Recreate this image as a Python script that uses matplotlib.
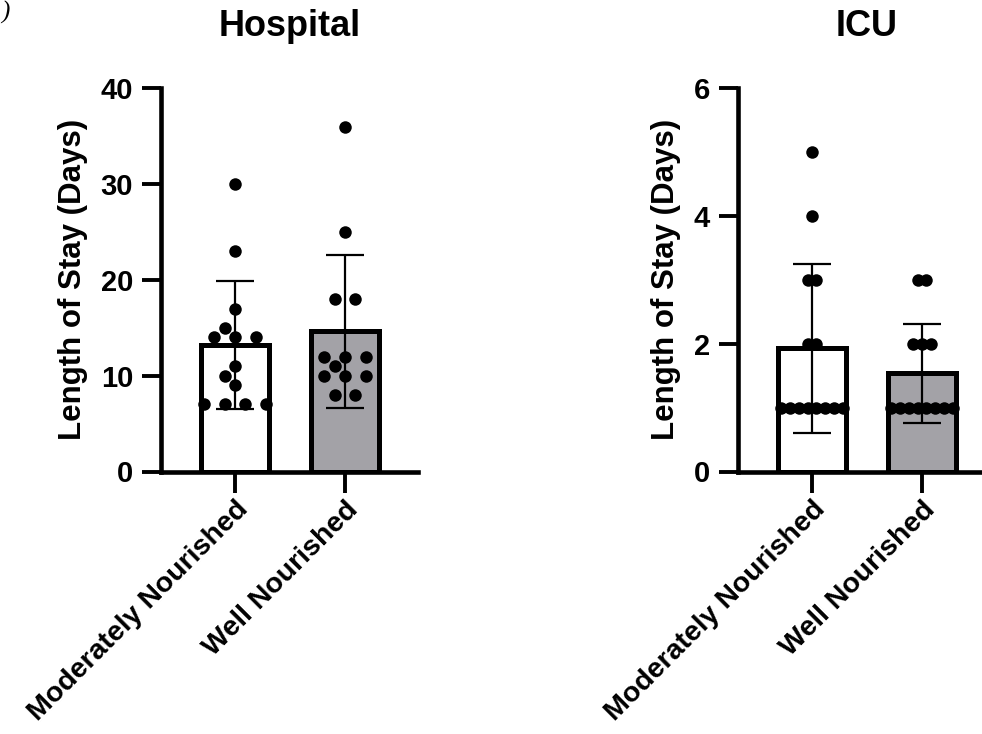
import numpy as np
import matplotlib
matplotlib.use('Agg')
import matplotlib.pyplot as plt
from collections import Counter

# ---------------- data ----------------
categories = ['Moderately Nourished', 'Well Nourished']
hospital_moderate = [30, 23, 17, 15, 14, 14, 14, 11, 10, 9, 7, 7, 7, 7]
hospital_well = [36, 25, 18, 18, 12, 12, 12, 11, 10, 10, 10, 8, 8]
icu_moderate = [5, 4, 3, 3, 2, 2, 1, 1, 1, 1, 1, 1, 1, 1]
icu_well = [3, 3, 2, 2, 2, 1, 1, 1, 1, 1, 1, 1, 1]
hospital_yticks = [0, 10, 20, 30, 40]
icu_yticks = [0, 2, 4, 6]
panel_titles = ['Hospital', 'ICU']
y_label = 'Length of Stay (Days)'
bar_colors = ['white', '#a3a2a7']

plt.rcParams['font.family'] = ['Liberation Sans', 'DejaVu Sans']
plt.rcParams['font.weight'] = 'bold'

W, H = 982, 734
fig = plt.figure(figsize=(W / 100, H / 100), dpi=100)


def px_rect(l, r, b, t):
    return [l / W, 1 - b / H, (r - l) / W, (b - t) / H]


XLIM = (-0.673, 1.664)
BAR_W = 0.61
DOT_D_PX = 12.5        # marker diameter in pixels
SPAN_PX = 62.0         # widest spread of a row of dots


def swarm_offsets(vals, spacing_px, ppy):
    """Return x offsets (pixels) for each value: equal values spread in a row,
    the row is shifted sideways to avoid overlapping neighbouring rows."""
    vals = np.asarray(vals, dtype=float)
    offs = np.zeros(len(vals))
    placed = []  # (x_px, value)
    shifts = [0]
    for k in range(1, 20):
        shifts += [-0.5 * k, 0.5 * k]
    for v in sorted(set(vals)):
        idx = np.where(vals == v)[0]
        n = len(idx)
        base = np.arange(n) - (n - 1) / 2
        for s in shifts:
            cand = (base + s) * spacing_px
            ok = True
            for c in cand:
                for (px, pv) in placed:
                    if np.hypot(c - px, (v - pv) * ppy) < DOT_D_PX * 0.95:
                        ok = False
                        break
                if not ok:
                    break
            if ok:
                break
        for i, c in zip(idx, cand):
            offs[i] = c
            placed.append((c, v))
    return offs


panels = [
    dict(title=panel_titles[0], groups=[hospital_moderate, hospital_well],
         yticks=hospital_yticks, rect=(161, 418, 471.5, 88.3)),
    dict(title=panel_titles[1], groups=[icu_moderate, icu_well],
         yticks=icu_yticks, rect=(738, 995, 471.5, 88.3)),
]

for p in panels:
    l, r, b, t = p['rect']
    ax = fig.add_axes(px_rect(l, r, b, t))
    ymax = p['yticks'][-1]
    ax.set_xlim(*XLIM)
    ax.set_ylim(0, ymax)
    ppx = (r - l) / (XLIM[1] - XLIM[0])
    ppy = (b - t) / ymax

    xs = np.arange(len(categories))
    means = [np.mean(g) for g in p['groups']]
    sds = [np.std(g, ddof=1) for g in p['groups']]

    ax.bar(xs, means, width=BAR_W, color=bar_colors, edgecolor='black',
           linewidth=3.6, zorder=2)
    ax.errorbar(xs, means, yerr=sds, fmt='none', ecolor='black',
                elinewidth=1.6, capsize=13.7, capthick=1.6, zorder=3)

    maxn = max(max(Counter(g).values()) for g in p['groups'])
    spacing = SPAN_PX / max(maxn - 1, 1)
    for xi, g in zip(xs, p['groups']):
        offs = swarm_offsets(g, spacing, ppy) / ppx
        ax.plot(xi + offs, g, 'o', color='black', ms=DOT_D_PX * 0.72,
                mew=0, zorder=4, clip_on=False)

    for s in ['top', 'right']:
        ax.spines[s].set_visible(False)
    for s in ['left', 'bottom']:
        ax.spines[s].set_linewidth(3.3)
        ax.spines[s].set_capstyle('projecting')
    ax.spines['left'].set_bounds(0, ymax)

    ax.set_yticks(p['yticks'])
    ax.set_yticklabels([str(v) for v in p['yticks']], fontsize=21,
                       fontweight='bold')
    ax.tick_params(axis='y', length=14, width=2.8, pad=6)
    ax.tick_params(axis='x', length=15, width=2.8, pad=3)
    ax.set_xticks(xs)
    ax.set_xticklabels(categories, rotation=45, ha='right',
                       rotation_mode='anchor', fontsize=20.5, fontweight='bold')
    ax.set_ylabel(y_label, fontsize=22.5, fontweight='bold', labelpad=9)

    fig.text((l + r) / 2 / W, 1 - 36 / H, p['title'], ha='center',
             va='baseline', fontsize=26, fontweight='bold')

fig.text(1 / W, 1 - 1 / H, ')', ha='left', va='top', fontsize=18,
         family='Liberation Serif', style='italic', fontweight='normal')

fig.savefig('out.png', dpi=100)
